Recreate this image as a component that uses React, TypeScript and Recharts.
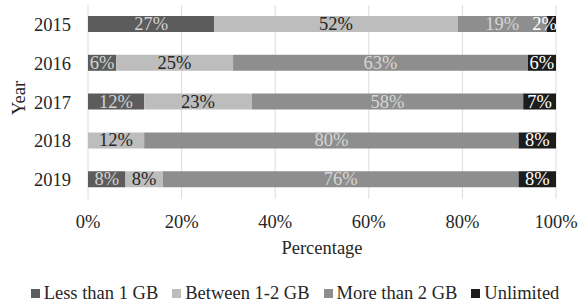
import React from 'react';
import {
  BarChart,
  Bar,
  XAxis,
  YAxis,
  CartesianGrid,
  Legend,
  LabelList,
} from 'recharts';

const years = ['2015', '2016', '2017', '2018', '2019'];
const lessThan1 = [27, 6, 12, 0, 8];
const between1and2 = [52, 25, 23, 12, 8];
const moreThan2 = [19, 63, 58, 80, 76];
const unlimited = [2, 6, 7, 8, 8];
const xTicks = [0, 20, 40, 60, 80, 100];

const seriesNames = ['Less than 1 GB', 'Between 1-2 GB', 'More than 2 GB', 'Unlimited'];
const seriesKeys = ['less', 'between', 'more', 'unlimited'];
const seriesColors = ['#5c5c5c', '#bdbdbd', '#8e8e8e', '#1c1c1c'];
const labelColors = ['#d2d2d2', '#262626', '#d6d6d6', '#ffffff'];

const data = years.map((year, i) => ({
  year,
  less: lessThan1[i],
  between: between1and2[i],
  more: moreThan2[i],
  unlimited: unlimited[i],
}));

const FONT = '"Liberation Serif", "Times New Roman", serif';
const FS = 18.5;

// bar value label; narrow segments get the text pulled back inside the plot
const makeLabel = (fill: string) => (props: any) => {
  const { x, y, width, height, value } = props;
  if (!value) return null;
  const w = Number(width);
  const cx = Number(x) + w / 2;
  const narrow = w < 24;
  return (
    <text
      x={narrow ? Number(x) + w + 1 : cx}
      y={Number(y) + Number(height) / 2}
      textAnchor={narrow ? 'end' : 'middle'}
      dominantBaseline="central"
      fill={fill}
      fontSize={FS}
      fontFamily={FONT}
    >
      {`${value}%`}
    </text>
  );
};

const LegendContent = () => (
  <div
    style={{
      display: 'flex',
      justifyContent: 'center',
      alignItems: 'center',
      paddingLeft: 10,
      fontFamily: FONT,
      fontSize: FS,
      color: '#262626',
      lineHeight: '22px',
    }}
  >
    {seriesNames.map((name, i) => (
      <div key={name} style={{ display: 'flex', alignItems: 'center', marginRight: i < 3 ? 14 : 0 }}>
        <span style={{ width: 9, height: 9, background: seriesColors[i], marginRight: 4, display: 'inline-block' }} />
        <span>{name}</span>
      </div>
    ))}
  </div>
);

export default function App() {
  return (
    <div style={{ position: 'absolute', left: 0, top: 0, width: 580, height: 304, background: '#fff' }}>
      <BarChart
        width={580}
        height={304}
        data={data}
        layout="vertical"
        margin={{ top: 5, right: 24, left: 0, bottom: 0 }}
        barSize={16}
      >
        <CartesianGrid horizontal={false} stroke="#dcdcdc" />
        <XAxis
          type="number"
          domain={[0, 100]}
          ticks={xTicks}
          tickFormatter={(v) => `${v}%`}
          axisLine={false}
          tickLine={false}
          tickSize={0}
          tickMargin={16}
          height={83}
          tick={{ fill: '#262626', fontSize: FS, fontFamily: FONT }}
          label={{ value: 'Percentage', position: 'insideBottom', offset: 28, fill: '#262626', fontSize: FS, fontFamily: FONT }}
        />
        <YAxis
          type="category"
          dataKey="year"
          width={88}
          axisLine={false}
          tickLine={false}
          tickSize={0}
          tickMargin={17}
          tick={{ fill: '#262626', fontSize: FS, fontFamily: FONT }}
          label={{
            value: 'Year',
            content: (p: any) => {
              const vb = p.viewBox || { x: 0, y: 5, height: 194 };
              const cy = vb.y + vb.height / 2 - 4;
              return (
                <text
                  x={19}
                  y={cy}
                  transform={`rotate(-90, 19, ${cy})`}
                  textAnchor="middle"
                  dominantBaseline="central"
                  fill="#262626"
                  fontSize={FS}
                  fontFamily={FONT}
                >
                  Year
                </text>
              );
            },
          }}
        />
        <Legend verticalAlign="bottom" height={22} wrapperStyle={{ left: 0, width: 580 }} content={<LegendContent />} />
        {seriesKeys.map((key, i) => (
          <Bar key={key} dataKey={key} name={seriesNames[i]} stackId="a" fill={seriesColors[i]} isAnimationActive={false}>
            <LabelList dataKey={key} content={makeLabel(labelColors[i])} />
          </Bar>
        ))}
      </BarChart>
    </div>
  );
}
